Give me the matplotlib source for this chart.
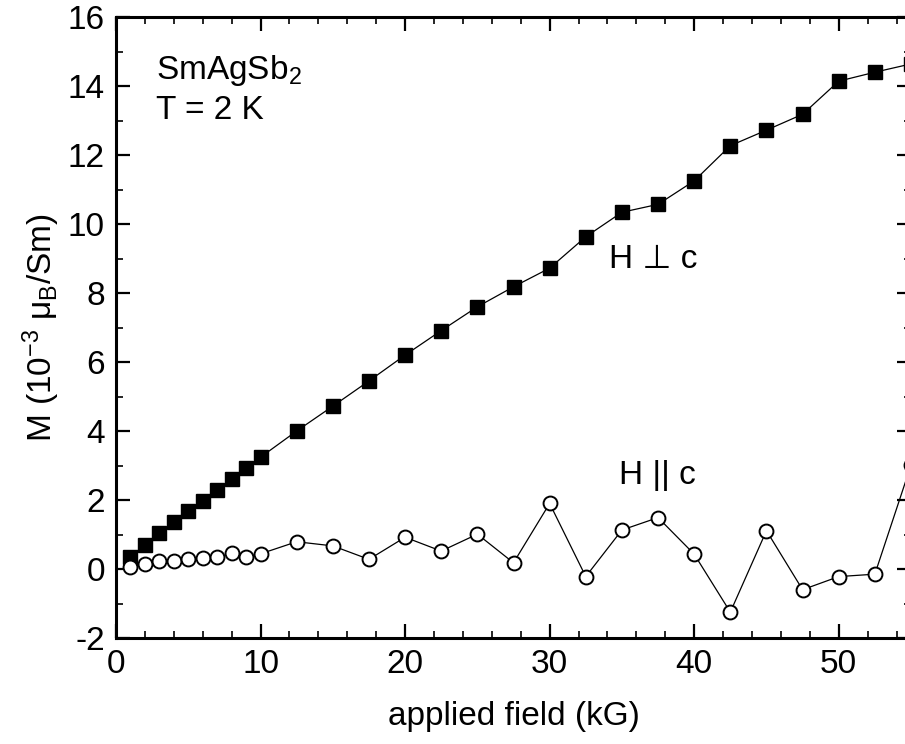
import matplotlib
matplotlib.use('Agg')
import matplotlib.pyplot as plt
from matplotlib.ticker import MultipleLocator

plt.rcParams['font.family'] = ['Liberation Sans', 'DejaVu Sans']
plt.rcParams['mathtext.fontset'] = 'custom'
plt.rcParams['mathtext.rm'] = 'Liberation Sans'
plt.rcParams['mathtext.it'] = 'Liberation Sans:italic'
plt.rcParams['axes.unicode_minus'] = False

# applied field (kG)
field = [1, 2, 3, 4, 5, 6, 7, 8, 9, 10, 12.5, 15, 17.5, 20, 22.5, 25, 27.5,
         30, 32.5, 35, 37.5, 40, 42.5, 45, 47.5, 50, 52.5, 55]

# M (1e-3 muB/Sm), H perpendicular to c
m_perp = [0.36, 0.70, 1.03, 1.35, 1.68, 1.98, 2.29, 2.61, 2.92, 3.24, 4.00,
          4.72, 5.45, 6.20, 6.91, 7.60, 8.18, 8.72, 9.63, 10.34, 10.57, 11.25,
          12.27, 12.72, 13.18, 14.14, 14.40, 14.64]

# M, H parallel to c
m_par = [0.05, 0.14, 0.23, 0.23, 0.29, 0.32, 0.34, 0.45, 0.36, 0.44, 0.79,
         0.67, 0.28, 0.92, 0.52, 1.01, 0.18, 1.90, -0.22, 1.13, 1.49, 0.43,
         -1.25, 1.11, -0.60, -0.22, -0.15, 3.01]

FS = 24

fig = plt.figure(figsize=(9.05, 7.44), dpi=100)
# right spine sits just past the figure edge, as in the original crop
ax = fig.add_axes([116/905, 106/744, (911-116)/905, (638-17)/744])

ax.plot(field, m_perp, '-', color='black', lw=0.9, marker='s', ms=10.5,
        mfc='black', mec='black', zorder=3)
ax.plot(field, m_par, '-', color='black', lw=0.9, marker='o', ms=10,
        mfc='white', mec='black', mew=1.4, zorder=3)

ax.set_xlim(0, 55)
ax.set_ylim(-2, 16)
ax.xaxis.set_major_locator(MultipleLocator(10))
ax.xaxis.set_minor_locator(MultipleLocator(2))
ax.yaxis.set_major_locator(MultipleLocator(2))
ax.yaxis.set_minor_locator(MultipleLocator(1))

ax.tick_params(which='both', direction='in', top=True, right=True,
               labelsize=FS, pad=8)
ax.tick_params(which='major', length=10, width=1.6)
ax.tick_params(which='minor', length=5, width=1.2)
for s in ax.spines.values():
    s.set_linewidth(2.2)

ax.set_xlabel('applied field (kG)', fontsize=FS, labelpad=15)
ax.set_ylabel(r'M (10$^{-3}$ μ$_{\rm B}$/Sm)', fontsize=FS, labelpad=4)

ax.text(2.8, 14.45, r'SmAgSb$_2$', fontsize=FS, va='center', ha='left')
ax.text(2.8, 13.3, 'T = 2 K', fontsize=FS, va='center', ha='left')
ax.text(34.1, 8.96, 'H ⊥ c', fontsize=FS, va='center', ha='left')
ax.text(34.8, 2.72, 'H || c', fontsize=FS, va='center', ha='left')

fig.savefig('out.png', dpi=100, facecolor='white')
